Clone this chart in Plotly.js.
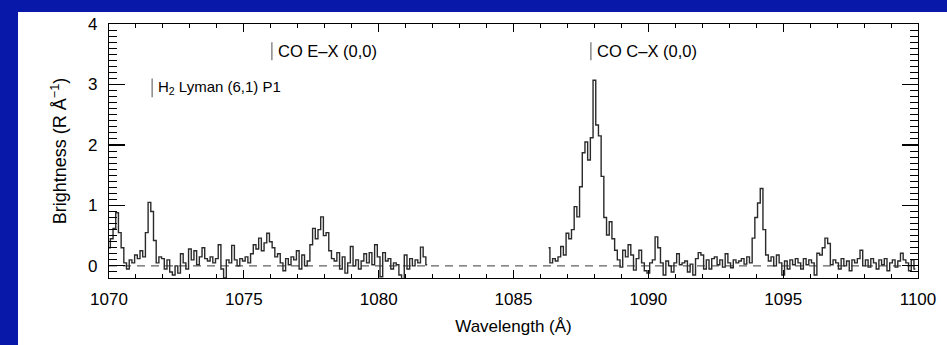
<!DOCTYPE html>
<html>
<head>
<meta charset="utf-8">
<script src="https://cdn.plot.ly/plotly-3.0.1.min.js"></script>
<style>
  html, body { margin: 0; padding: 0; width: 947px; height: 345px; overflow: hidden; background: #0818a8; }
  #panel { position: absolute; left: 18px; top: 12px; width: 929px; height: 333px; background: #ffffff; }
  #chart { width: 929px; height: 333px; }
</style>
</head>
<body>
<div id="panel"><div id="chart"></div></div>
<script>
// Spectrum sampled on a 0.1 Å grid, two observed windows
const stepA = 0.1;
const startA1 = 1070.0;   // first window start (Å)
const startA2 = 1086.3;   // second window start (Å)

// Brightness (R/Å), window 1: 1070.0 – 1081.8 Å
const brightness1 = [
  0.30, 0.45, 0.62, 0.88, 0.55, 0.30, 0.05, -0.05, 0.10, 0.05,
  0.18, 0.12, 0.25, 0.15, 0.55, 1.05, 0.90, 0.42, 0.05, 0.15,
  0.12, -0.05, 0.10, -0.10, -0.15, 0.00, -0.12, 0.20, 0.05, -0.05,
  0.28, 0.10, 0.25, 0.02, 0.15, 0.30, 0.12, 0.08, 0.15, 0.05,
  0.12, 0.35, -0.05, -0.20, 0.10, 0.05, 0.34, 0.10, 0.00, 0.12,
  0.08, 0.15, 0.05, 0.20, 0.35, 0.28, 0.46, 0.25, 0.38, 0.54,
  0.40, 0.30, 0.15, 0.20, 0.05, -0.08, 0.12, 0.02, 0.15, 0.10,
  0.25, -0.05, 0.18, 0.00, 0.08, 0.35, 0.62, 0.45, 0.60, 0.81,
  0.50, 0.55, 0.25, 0.12, 0.08, 0.22, -0.05, 0.15, -0.12, 0.05,
  0.32, 0.00, 0.10, -0.05, 0.08, 0.20, 0.05, 0.22, 0.02, 0.35,
  0.15, -0.18, 0.22, 0.08, 0.12, -0.05, 0.05, 0.02, -0.15, -0.22,
  0.18, -0.05, 0.12, 0.00, 0.10, 0.05, 0.31, 0.15, 0.02
];

// Brightness (R/Å), window 2: 1086.3 – 1099.9 Å
const brightness2 = [
  0.30, 0.05, 0.12, 0.08, 0.15, 0.32, 0.18, 0.54, 0.45, 0.60,
  0.98, 0.81, 1.31, 1.87, 2.05, 1.75, 2.12, 3.07, 2.33, 2.15,
  1.48, 0.80, 0.51, 0.73, 0.45, 0.26, 0.10, -0.02, 0.26, 0.15,
  0.35, 0.18, -0.07, 0.12, 0.26, 0.05, -0.08, -0.12, 0.05, 0.10,
  0.48, 0.30, 0.05, -0.15, 0.08, 0.00, -0.10, 0.05, 0.20, 0.02,
  0.05, 0.08, -0.10, 0.03, -0.15, 0.12, 0.22, 0.18, -0.05, 0.10,
  -0.05, 0.12, 0.15, 0.02, 0.10, -0.02, 0.20, 0.05, -0.03, 0.10,
  0.05, 0.08, 0.12, 0.03, 0.15, 0.05, 0.46, 0.80, 1.04, 1.28,
  0.60, 0.18, 0.08, 0.15, 0.00, 0.18, 0.05, -0.15, 0.08, -0.05,
  0.10, 0.02, 0.12, 0.05, -0.05, 0.12, 0.02, 0.10, 0.05, -0.15,
  0.21, 0.18, 0.30, 0.46, 0.37, 0.02, 0.10, 0.05, -0.05, 0.12,
  0.00, 0.08, -0.08, 0.10, 0.05, 0.12, 0.26, 0.00, 0.10, -0.02,
  0.12, 0.05, -0.05, 0.10, 0.02, 0.12, -0.08, 0.05, 0.10, -0.02,
  0.08, 0.21, 0.10, 0.05, -0.08, 0.10, -0.05
];

// Line identifications
const lineLabels = ["CO E\u2013X (0,0)", "CO C\u2013X (0,0)", "H<sub>2</sub> Lyman (6,1) P1"];
const lineWavelengths = [1076.04, 1087.87, 1071.60];
const markLow = [3.40, 3.40, 2.79];
const markHigh = [3.70, 3.70, 3.10];
const labelSizes = [16.5, 16.5, 15];

const xRange = [1070, 1100];
const yRange = [-0.2, 4];

function grid(start, n) {
  return Array.from({length: n}, (_, i) => +(start + i * stepA).toFixed(3));
}

const FONT = "Liberation Sans, Arial, Helvetica, sans-serif";

const traces = [
  {
    x: xRange, y: [0, 0], mode: "lines", hoverinfo: "skip",
    line: {color: "#3a3a3a", width: 1, dash: "8px,6px"}
  },
  {
    x: grid(startA1, brightness1.length), y: brightness1, mode: "lines",
    line: {color: "#2a2a2a", width: 1.4, shape: "hvh"}
  },
  {
    x: grid(startA2, brightness2.length), y: brightness2, mode: "lines",
    line: {color: "#2a2a2a", width: 1.4, shape: "hvh"}
  }
];

const shapes = lineWavelengths.map((w, i) => ({
  type: "line", xref: "x", yref: "y",
  x0: w, x1: w, y0: markLow[i], y1: markHigh[i],
  line: {color: "#777777", width: 1.3}
}));

const annotations = lineWavelengths.map((w, i) => ({
  x: w, y: (markLow[i] + markHigh[i]) / 2, xref: "x", yref: "y",
  text: lineLabels[i], showarrow: false,
  xanchor: "left", yanchor: "middle", xshift: 4,
  font: {family: FONT, size: labelSizes[i], color: "#000000"}
}));

const axisCommon = {
  showgrid: false, zeroline: false, showline: true,
  linecolor: "#000000", linewidth: 1.2, mirror: "allticks",
  ticks: "inside", tickcolor: "#000000", tickwidth: 1.2,
  tickfont: {family: FONT, size: 17, color: "#000000"}
};

const layout = {
  width: 929, height: 333,
  margin: {l: 91, r: 29, t: 12, b: 67},
  paper_bgcolor: "rgba(0,0,0,0)",
  plot_bgcolor: "#ffffff",
  showlegend: false,
  xaxis: Object.assign({}, axisCommon, {
    range: xRange, dtick: 5, tick0: 1070, ticklen: 8,
    minor: {dtick: 1, ticklen: 4, ticks: "inside", tickcolor: "#000000", tickwidth: 1},
    ticklabelstandoff: 5,
    title: {text: "Wavelength (\u00c5)", standoff: 12, font: {family: FONT, size: 17, color: "#000000"}}
  }),
  yaxis: Object.assign({}, axisCommon, {
    range: yRange, tickvals: [0, 1, 2, 3, 4], ticklen: 16,
    minor: {dtick: 0.1, tick0: 0, ticklen: 8, ticks: "inside", tickcolor: "#000000", tickwidth: 1},
    ticklabelstandoff: 7,
    title: {text: "Brightness (R \u00c5<sup>\u22121</sup>)", standoff: 16, font: {family: FONT, size: 18, color: "#000000"}}
  }),
  shapes: shapes,
  annotations: annotations
};

Plotly.newPlot("chart", traces, layout, {displayModeBar: false, staticPlot: true});
</script>
</body>
</html>
